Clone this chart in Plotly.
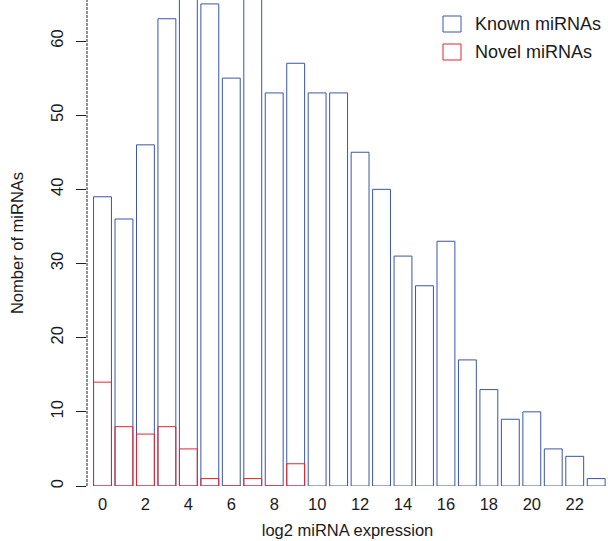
import plotly.graph_objects as go

bins = list(range(24))
known = [39, 36, 46, 63, 70, 65, 55, 69, 53, 57, 53, 53, 45, 40, 31, 27, 33, 17, 13, 9, 10, 5, 4, 1]
novel_bins = list(range(10))
novel = [14, 8, 7, 8, 5, 1, 0, 1, 0, 3]
x_ticks = list(range(0, 24, 2))
y_ticks = [0, 10, 20, 30, 40, 50, 60]
legend_names = ["Known miRNAs", "Novel miRNAs"]

blue = "#3B55A8"
red = "#E8232C"
font = "Liberation Sans, Arial, Helvetica, sans-serif"

W, H = 608, 541
L, B = 87, 55
PW, PH = W - L, H - B

def px(x):
    return (x - L) / PW

def py(y):
    return (PH - y) / PH

fig = go.Figure()
fig.add_trace(go.Bar(x=bins, y=known, width=0.833, name=legend_names[0], showlegend=False,
                     marker=dict(color="rgba(255,255,255,0)", line=dict(color=blue, width=1))))
fig.add_trace(go.Bar(x=novel_bins, y=novel, width=0.833, name=legend_names[1], showlegend=False,
                     marker=dict(color="rgba(255,255,255,0)", line=dict(color=red, width=1)),
                     base=0))

fig.add_shape(type="line", xref="paper", yref="paper", x0=0, x1=0, y0=0, y1=1,
              line=dict(color="#222", width=1, dash="3px,1px"))

# legend
for i, (name, col) in enumerate(zip(legend_names, [blue, red])):
    yc = 24 + 28 * i
    fig.add_shape(type="rect", xref="paper", yref="paper",
                  x0=px(443), x1=px(461), y0=py(yc - 8), y1=py(yc + 8),
                  line=dict(color=col, width=1), fillcolor="rgba(0,0,0,0)")
    fig.add_annotation(xref="paper", yref="paper", x=px(473), y=py(yc), text=name,
                       showarrow=False, xanchor="left", yanchor="middle",
                       font=dict(size=18, color="#1a1a1a"))

fig.update_layout(
    width=W, height=H,
    margin=dict(l=L, r=0, t=0, b=B),
    plot_bgcolor="white", paper_bgcolor="white",
    barmode="overlay",
    font=dict(family=font, size=16.5, color="#1a1a1a"),
    showlegend=False,
    xaxis=dict(range=[-0.722, 23.55], tickmode="array", tickvals=x_ticks,
               ticktext=[str(v) for v in x_ticks], showline=False, ticks="",
               ticklabelstandoff=6,
               showgrid=False, zeroline=False,
               title=dict(text="log2 miRNA expression", standoff=12, font=dict(size=16.5))),
    yaxis=dict(range=[0, 65.53], tickmode="array", tickvals=y_ticks,
               ticktext=[str(v) for v in y_ticks], tickangle=-90,
               ticks="outside", ticklen=10, tickcolor="#222", showline=False,
               ticklabelstandoff=6,
               showgrid=False, zeroline=False,
               title=dict(text="Nomber of miRNAs", standoff=20, font=dict(size=16.5))),
)

fig.write_html("out.html")
